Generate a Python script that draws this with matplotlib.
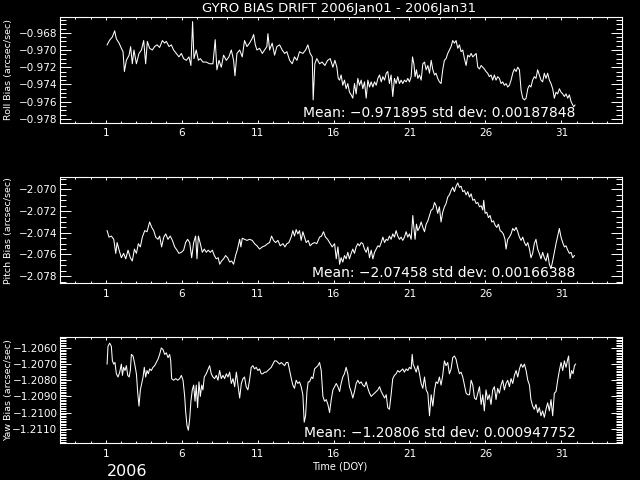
import matplotlib
matplotlib.use("Agg")
import matplotlib.pyplot as plt
from matplotlib.ticker import MultipleLocator, FuncFormatter

# ---------------- data (day of year, bias in arcsec/sec) ----------------
roll_day = [
    1.09, 1.26, 1.44, 1.59, 1.70, 1.88, 2.03, 2.14, 2.23, 2.36,
    2.54, 2.64, 2.75, 2.86, 3.02, 3.19, 3.35, 3.50, 3.63, 3.74,
    3.89, 4.07, 4.22, 4.38, 4.55, 4.73, 4.88, 4.99, 5.17, 5.32,
    5.47, 5.65, 5.82, 5.98, 6.13, 6.31, 6.48, 6.61, 6.72, 6.81,
    6.96, 7.10, 7.23, 7.40, 7.62, 7.84, 8.06, 8.21, 8.32, 8.46,
    8.61, 8.76, 8.94, 9.11, 9.27, 9.42, 9.51, 9.64, 9.82, 9.99,
    10.14, 10.30, 10.47, 10.63, 10.74, 10.85, 10.96, 11.13, 11.31, 11.46,
    11.61, 11.68, 11.79, 11.96, 12.12, 12.27, 12.45, 12.62, 12.78, 12.93,
    13.11, 13.28, 13.43, 13.59, 13.76, 13.98, 14.16, 14.31, 14.46, 14.60,
    14.66, 14.77, 14.90, 15.08, 15.25, 15.43, 15.61, 15.78, 15.96, 16.09,
    16.22, 16.31,
    16.40, 16.50, 16.61, 16.72, 16.83, 16.94, 17.05, 17.16, 17.27, 17.38,
    17.49, 17.60, 17.71, 17.82, 17.93, 18.04, 18.15, 18.26, 18.37, 18.48,
    18.59, 18.70, 18.81, 18.92, 19.03, 19.14, 19.25, 19.36, 19.47, 19.57,
    19.68, 19.79, 19.90, 20.01, 20.12, 20.23, 20.34, 20.45, 20.56, 20.67,
    20.78, 20.89, 21.00, 21.11, 21.20, 21.29, 21.37, 21.46, 21.55, 21.66,
    21.77, 21.88, 21.99, 22.10, 22.21, 22.32, 22.43, 22.54, 22.65, 22.75,
    22.86, 22.97, 23.08, 23.19, 23.30, 23.41, 23.52, 23.63, 23.74, 23.85,
    23.96, 24.07, 24.18, 24.29, 24.40, 24.51, 24.62, 24.73, 24.84, 24.95,
    25.06, 25.17, 25.28, 25.39, 25.50, 25.61, 25.72, 25.83, 25.93, 26.04,
    26.15, 26.26, 26.37, 26.48, 26.59, 26.70, 26.81, 26.92, 27.03, 27.14,
    27.25, 27.36, 27.47, 27.58, 27.69, 27.80, 27.91, 28.02, 28.13, 28.24,
    28.35, 28.46, 28.57, 28.68, 28.79, 28.90, 29.00, 29.11, 29.22, 29.33,
    29.44, 29.55, 29.66, 29.77, 29.88, 29.99, 30.10, 30.21, 30.32, 30.43,
    30.54, 30.65, 30.76, 30.87, 30.98, 31.09, 31.20, 31.31, 31.42, 31.53,
    31.64, 31.75, 31.81, 31.90,
]
roll_bias = [
    -0.9694, -0.96885, -0.96847, -0.96777, -0.9687, -0.9692, -0.9698, -0.9702, -0.9725, -0.9712,
    -0.9706, -0.9696, -0.9716, -0.9700, -0.9716, -0.9704, -0.9700, -0.9689, -0.9716, -0.9690,
    -0.9698, -0.9700, -0.9696, -0.9694, -0.9697, -0.9689, -0.9692, -0.9690, -0.9696, -0.9694,
    -0.9700, -0.9704, -0.9708, -0.9704, -0.9710, -0.9712, -0.9708, -0.9718, -0.9667, -0.9710,
    -0.9700, -0.9712, -0.9710, -0.9714, -0.9714, -0.9716, -0.9716, -0.9688, -0.9723, -0.9712,
    -0.9720, -0.9706, -0.9712, -0.9708, -0.9700, -0.9712, -0.9730, -0.9704, -0.9700, -0.9708,
    -0.9689, -0.9696, -0.9692, -0.9687, -0.9682, -0.9694, -0.9700, -0.9698, -0.9704, -0.9700,
    -0.9696, -0.9681, -0.9700, -0.9692, -0.9706, -0.9696, -0.9694, -0.9700, -0.9704, -0.9702,
    -0.9712, -0.9716, -0.9708, -0.9712, -0.9702, -0.9704, -0.9700, -0.9694, -0.9704, -0.9708,
    -0.9758, -0.9716, -0.9710, -0.9716, -0.9714, -0.9718, -0.9712, -0.9710, -0.9720, -0.9712,
    -0.9720, -0.9733,
    -0.9735, -0.9729, -0.9741, -0.9735, -0.9745, -0.9739, -0.9749, -0.9752, -0.9756, -0.9739,
    -0.9751, -0.9733, -0.9741, -0.9735, -0.9745, -0.9737, -0.9756, -0.9735, -0.9743, -0.9737,
    -0.9743, -0.9737, -0.9741, -0.9733, -0.9729, -0.9737, -0.9731, -0.9735, -0.9727, -0.9725,
    -0.9739, -0.9729, -0.9754, -0.9733, -0.9739, -0.9731, -0.9739, -0.9735, -0.9739, -0.9735,
    -0.9737, -0.9733, -0.9737, -0.9731, -0.9708, -0.9716, -0.9731, -0.9723, -0.9733, -0.9729,
    -0.9735, -0.9716, -0.9714, -0.9723, -0.9718, -0.9727, -0.9712, -0.9723, -0.9729, -0.9727,
    -0.9733, -0.9737, -0.9739, -0.9723, -0.9712, -0.9710, -0.9704, -0.9700, -0.9696, -0.9689,
    -0.9692, -0.9689, -0.9698, -0.9694, -0.9702, -0.9700, -0.9710, -0.9718, -0.9706, -0.9708,
    -0.9704, -0.9708, -0.9706, -0.9704, -0.9720, -0.9722, -0.9718, -0.9720, -0.9722, -0.9725,
    -0.9727, -0.9731, -0.9729, -0.9735, -0.9729, -0.9735, -0.9731, -0.9733, -0.9739, -0.9737,
    -0.9741, -0.9739, -0.9743, -0.9741, -0.9735, -0.9727, -0.9722, -0.9725, -0.9720, -0.9723,
    -0.9747, -0.9756, -0.9758, -0.9756, -0.9745, -0.9741, -0.9743, -0.9735, -0.9731, -0.9733,
    -0.9723, -0.9729, -0.9735, -0.9737, -0.9727, -0.9733, -0.9727, -0.9735, -0.9739, -0.9745,
    -0.9756, -0.9749, -0.9751, -0.9745, -0.9749, -0.9751, -0.9754, -0.9751, -0.9756, -0.9752,
    -0.9760, -0.9764, -0.9766, -0.9764,
]

pitch_day = [
    1.09, 1.22, 1.37, 1.53, 1.66, 1.75, 1.88, 2.03, 2.18, 2.32,
    2.47, 2.62, 2.75, 2.89, 3.02, 3.15, 3.28, 3.41, 3.57, 3.72,
    3.89, 4.03, 4.16, 4.29, 4.44, 4.55, 4.68, 4.82, 4.95, 5.10,
    5.25, 5.39, 5.54, 5.69, 5.82, 5.98, 6.13, 6.26, 6.39, 6.53,
    6.66, 6.79, 6.92, 7.01, 7.10, 7.23, 7.36, 7.49, 7.62, 7.75,
    7.89, 8.02, 8.15, 8.28, 8.41, 8.50, 8.63, 8.76, 8.89, 9.03,
    9.16, 9.29, 9.42, 9.55, 9.68, 9.82, 9.90, 9.99, 10.14, 10.30,
    10.47, 10.65, 10.80, 10.96, 11.13, 11.31, 11.48, 11.66, 11.79, 11.92,
    12.05, 12.18, 12.34, 12.49, 12.67, 12.80, 12.93, 13.06, 13.21, 13.32,
    13.43, 13.54, 13.65, 13.76, 13.87, 13.98, 14.09, 14.20, 14.33, 14.46,
    14.60, 14.75, 14.90, 15.08, 15.21, 15.34, 15.47, 15.61, 15.74, 15.91,
    16.07, 16.18, 16.29, 16.40, 16.50, 16.61, 16.72, 16.83, 16.94, 17.05,
    17.16, 17.27, 17.38, 17.49, 17.60, 17.71, 17.82, 17.93, 18.04, 18.15,
    18.26, 18.37, 18.48, 18.59, 18.70, 18.81, 18.92, 19.03, 19.14, 19.25,
    19.36, 19.47, 19.57, 19.68, 19.79, 19.90, 20.01, 20.12, 20.23, 20.34,
    20.45, 20.56, 20.67, 20.78, 20.89, 21.00, 21.11, 21.22, 21.29, 21.37,
    21.46, 21.55, 21.66, 21.77, 21.88, 21.99, 22.10, 22.21, 22.32, 22.43,
    22.54, 22.65, 22.75, 22.86, 22.97, 23.08, 23.19, 23.30, 23.41, 23.52,
    23.63, 23.74, 23.85, 23.96, 24.07, 24.18, 24.29, 24.40, 24.51, 24.62,
    24.73, 24.84, 24.95, 25.06, 25.17, 25.28, 25.39, 25.50, 25.61, 25.72,
    25.83, 25.89, 25.98, 26.09, 26.20, 26.31, 26.42, 26.53, 26.64, 26.75,
    26.86, 26.97, 27.07, 27.18, 27.29, 27.36, 27.47, 27.58, 27.69, 27.80,
    27.91, 28.02, 28.13, 28.24, 28.35, 28.46, 28.57, 28.68, 28.79, 28.90,
    29.00, 29.11, 29.22, 29.33, 29.44, 29.55, 29.66, 29.77, 29.88, 29.99,
    30.10, 30.21, 30.32, 30.43, 30.54, 30.65, 30.76, 30.87, 30.98, 31.09,
    31.20, 31.31, 31.42, 31.53, 31.64, 31.75, 31.86,
]
pitch_bias = [
    -2.0738, -2.0744, -2.0743, -2.0746, -2.0759, -2.0749, -2.0756, -2.0763, -2.0759, -2.0764,
    -2.0756, -2.0763, -2.0766, -2.0755, -2.0759, -2.0750, -2.0753, -2.0744, -2.0738, -2.0739,
    -2.0730, -2.0735, -2.0738, -2.0744, -2.0746, -2.0743, -2.0753, -2.0744, -2.0741, -2.0746,
    -2.0743, -2.0747, -2.0753, -2.0756, -2.0759, -2.0758, -2.0756, -2.0749, -2.0746, -2.0749,
    -2.0763, -2.0749, -2.0743, -2.0764, -2.0743, -2.0750, -2.0758, -2.0755, -2.0758, -2.0756,
    -2.0758, -2.0756, -2.0761, -2.0764, -2.0763, -2.0769, -2.0766, -2.0764, -2.0761, -2.0763,
    -2.0767, -2.0766, -2.0769, -2.0761, -2.0755, -2.0746, -2.0753, -2.0745, -2.0746, -2.0747,
    -2.0746, -2.0747, -2.0750, -2.0752, -2.0755, -2.0753, -2.0752, -2.0750, -2.0749, -2.0743,
    -2.0747, -2.0749, -2.0747, -2.0752, -2.0750, -2.0753, -2.0750, -2.0749, -2.0744, -2.0738,
    -2.0743, -2.0737, -2.0741, -2.0738, -2.0747, -2.0739, -2.0744, -2.0749, -2.0747, -2.0752,
    -2.0750, -2.0749, -2.0750, -2.0744, -2.0743, -2.0739, -2.0744, -2.0746, -2.0749, -2.0753,
    -2.0750, -2.0764, -2.0753, -2.0769, -2.0763, -2.0767, -2.0761, -2.0764, -2.0758, -2.0764,
    -2.0759, -2.0755, -2.0759, -2.0753, -2.0750, -2.0752, -2.0749, -2.0750, -2.0755, -2.0758,
    -2.0753, -2.0763, -2.0756, -2.0764, -2.0758, -2.0755, -2.0752, -2.0753, -2.0749, -2.0744,
    -2.0749, -2.0746, -2.0747, -2.0743, -2.0746, -2.0741, -2.0744, -2.0738, -2.0743, -2.0746,
    -2.0744, -2.0747, -2.0744, -2.0739, -2.0744, -2.0741, -2.0746, -2.0724, -2.0735, -2.0746,
    -2.0732, -2.0738, -2.0735, -2.0730, -2.0735, -2.0739, -2.0732, -2.0729, -2.0724, -2.0719,
    -2.0718, -2.0712, -2.0715, -2.0722, -2.0716, -2.0730, -2.0721, -2.0716, -2.0713, -2.0707,
    -2.0705, -2.0701, -2.0698, -2.0702, -2.0697, -2.0694, -2.0698, -2.0697, -2.0702, -2.0701,
    -2.0705, -2.0702, -2.0707, -2.0704, -2.0710, -2.0709, -2.0713, -2.0712, -2.0716, -2.0715,
    -2.0719, -2.0710, -2.0722, -2.0721, -2.0726, -2.0724, -2.0730, -2.0729, -2.0733, -2.0735,
    -2.0732, -2.0738, -2.0739, -2.0741, -2.0746, -2.0755, -2.0746, -2.0744, -2.0741, -2.0736,
    -2.0738, -2.0735, -2.0739, -2.0744, -2.0747, -2.0744, -2.0749, -2.0752, -2.0749, -2.0755,
    -2.0763, -2.0759, -2.0750, -2.0746, -2.0755, -2.0759, -2.0764, -2.0758, -2.0763, -2.0766,
    -2.0759, -2.0769, -2.0773, -2.0766, -2.0758, -2.0750, -2.0743, -2.0736, -2.0744, -2.0749,
    -2.0753, -2.0752, -2.0756, -2.0759, -2.0758, -2.0763, -2.0761,
]

yaw_day = [
    1.09, 1.15, 1.26, 1.37, 1.44, 1.53, 1.61, 1.70, 1.81, 1.92,
    2.03, 2.10, 2.18, 2.27, 2.36, 2.45, 2.54, 2.62, 2.69, 2.80,
    2.91, 3.02, 3.11, 3.19, 3.28, 3.37, 3.46, 3.54, 3.63, 3.72,
    3.81, 3.89, 4.00, 4.11, 4.22, 4.33, 4.44, 4.55, 4.66, 4.77,
    4.88, 4.99, 5.10, 5.21, 5.28, 5.34, 5.47, 5.61, 5.74, 5.87,
    5.98, 6.09, 6.20, 6.26, 6.35, 6.44, 6.53, 6.61, 6.70, 6.79,
    6.88, 6.96, 7.05, 7.14, 7.23, 7.32, 7.40, 7.49, 7.62, 7.75,
    7.84, 7.95, 8.06, 8.17, 8.28, 8.39, 8.50, 8.61, 8.72, 8.83,
    8.94, 9.05, 9.16, 9.27, 9.38, 9.49, 9.60, 9.71, 9.82, 9.93,
    10.04, 10.14, 10.25, 10.36, 10.47, 10.58, 10.69, 10.80, 10.91, 11.02,
    11.13, 11.24, 11.35, 11.46, 11.57, 11.68, 11.79, 11.90, 12.01, 12.12,
    12.23, 12.34, 12.45, 12.56, 12.67, 12.78, 12.89, 13.00, 13.11, 13.22,
    13.32, 13.43, 13.54, 13.65, 13.76, 13.87, 13.98, 14.07, 14.16, 14.25,
    14.33, 14.42, 14.55, 14.64, 14.75, 14.86, 14.97, 15.08, 15.19, 15.30,
    15.41, 15.52, 15.63, 15.74, 15.85, 15.96, 16.07, 16.18, 16.29,
    16.40, 16.50, 16.61, 16.72, 16.83, 16.94, 17.05, 17.16, 17.27, 17.38,
    17.49, 17.60, 17.71, 17.82, 17.93, 18.04, 18.15, 18.26, 18.37, 18.48,
    18.59, 18.70, 18.81, 18.92, 19.03, 19.14, 19.25, 19.36, 19.47, 19.57,
    19.68, 19.79, 19.90, 20.01, 20.12, 20.23, 20.34, 20.45, 20.56, 20.67,
    20.78, 20.89, 21.00, 21.11, 21.18, 21.24, 21.33, 21.44, 21.55, 21.66,
    21.77, 21.88, 21.99, 22.10, 22.21, 22.32, 22.43, 22.54, 22.65, 22.75,
    22.86, 22.97, 23.08, 23.19, 23.30, 23.41, 23.52, 23.63, 23.74, 23.85,
    23.96, 24.07, 24.18, 24.29, 24.40, 24.51, 24.62, 24.73, 24.84, 24.95,
    25.06, 25.17, 25.28, 25.39, 25.50, 25.61, 25.72, 25.83, 25.93, 26.04,
    26.15, 26.26, 26.37, 26.48, 26.59, 26.70, 26.81, 26.92, 27.03, 27.14,
    27.25, 27.36, 27.47, 27.58, 27.69, 27.80, 27.91, 28.02, 28.13, 28.24,
    28.35, 28.46, 28.57, 28.68, 28.79, 28.90, 29.00, 29.11, 29.22, 29.33,
    29.44, 29.55, 29.66, 29.77, 29.88, 29.99, 30.10, 30.21, 30.32, 30.43,
    30.54, 30.65, 30.76, 30.87, 30.98, 31.09, 31.20, 31.31, 31.42, 31.48,
    31.57, 31.68, 31.77, 31.86, 31.94,
]
yaw_bias = [
    -1.2070, -1.2059, -1.2057, -1.2059, -1.2068, -1.2070, -1.2069, -1.2076, -1.2078, -1.2075,
    -1.2070, -1.2077, -1.2072, -1.2074, -1.2071, -1.2077, -1.2078, -1.2074, -1.2064, -1.2065,
    -1.2070, -1.2076, -1.2088, -1.2096, -1.2086, -1.2082, -1.2078, -1.2072, -1.2078, -1.2074,
    -1.2076, -1.2073, -1.2074, -1.2072, -1.2071, -1.2069, -1.2067, -1.2064, -1.2060, -1.2061,
    -1.2064, -1.2063, -1.2066, -1.2064, -1.2068, -1.2079, -1.2080, -1.2079, -1.2080, -1.2079,
    -1.2077, -1.2080, -1.2090, -1.2099, -1.2108, -1.2111, -1.2104, -1.2093, -1.2086, -1.2083,
    -1.2093, -1.2083, -1.2097, -1.2081, -1.2090, -1.2083, -1.2086, -1.2078, -1.2076, -1.2073,
    -1.2071, -1.2076, -1.2078, -1.2079, -1.2077, -1.2080, -1.2074, -1.2079, -1.2077, -1.2079,
    -1.2076, -1.2078, -1.2075, -1.2082, -1.2079, -1.2084, -1.2075, -1.2083, -1.2091, -1.2082,
    -1.2079, -1.2078, -1.2084, -1.2086, -1.2080, -1.2072, -1.2071, -1.2073, -1.2072, -1.2074,
    -1.2073, -1.2076, -1.2076, -1.2075, -1.2075, -1.2074, -1.2073, -1.2072, -1.2070, -1.2068,
    -1.2068, -1.2069, -1.2070, -1.2069, -1.2070, -1.2071, -1.2069, -1.2069, -1.2074, -1.2079,
    -1.2083, -1.2085, -1.2080, -1.2082, -1.2081, -1.2084, -1.2089, -1.2106, -1.2102, -1.2087,
    -1.2081, -1.2081, -1.2078, -1.2079, -1.2073, -1.2072, -1.2071, -1.2069, -1.2074, -1.2090,
    -1.2093, -1.2092, -1.2095, -1.2100, -1.2092, -1.2086, -1.2084, -1.2082, -1.2084,
    -1.2087, -1.2082, -1.2078, -1.2076, -1.2072, -1.2076, -1.2084, -1.2087, -1.2091, -1.2087,
    -1.2082, -1.2080, -1.2082, -1.2081, -1.2083, -1.2084, -1.2081, -1.2085, -1.2088, -1.2090,
    -1.2089, -1.2088, -1.2087, -1.2086, -1.2084, -1.2087, -1.2089, -1.2091, -1.2089, -1.2097,
    -1.2098, -1.2089, -1.2079, -1.2077, -1.2076, -1.2074, -1.2075, -1.2074, -1.2073, -1.2075,
    -1.2073, -1.2074, -1.2072, -1.2073, -1.2064, -1.2070, -1.2072, -1.2075, -1.2071, -1.2076,
    -1.2082, -1.2085, -1.2078, -1.2086, -1.2088, -1.2102, -1.2089, -1.2096, -1.2086, -1.2081,
    -1.2082, -1.2078, -1.2083, -1.2077, -1.2068, -1.2071, -1.2069, -1.2076, -1.2073, -1.2066,
    -1.2065, -1.2067, -1.2072, -1.2076, -1.2075, -1.2078, -1.2083, -1.2088, -1.2089, -1.2089,
    -1.2080, -1.2083, -1.2091, -1.2092, -1.2088, -1.2084, -1.2095, -1.2089, -1.2099, -1.2086,
    -1.2092, -1.2089, -1.2095, -1.2086, -1.2084, -1.2092, -1.2085, -1.2088, -1.2083, -1.2080,
    -1.2086, -1.2082, -1.2080, -1.2084, -1.2079, -1.2082, -1.2077, -1.2074, -1.2078, -1.2073,
    -1.2070, -1.2072, -1.2070, -1.2074, -1.2080, -1.2083, -1.2092, -1.2096, -1.2098, -1.2095,
    -1.2100, -1.2097, -1.2102, -1.2099, -1.2103, -1.2098, -1.2094, -1.2099, -1.2092, -1.2102,
    -1.2088, -1.2087, -1.2080, -1.2074, -1.2069, -1.2074, -1.2068, -1.2072, -1.2067, -1.2065,
    -1.2079, -1.2074, -1.2076, -1.2071, -1.2070,
]

labels = ["Roll Bias (arcsec/sec)", "Pitch Bias (arcsec/sec)", "Yaw Bias (arcsec/sec)"]
stats = ["Mean: \u22120.971895 std dev: 0.00187848",
         "Mean: \u22122.07458 std dev: 0.00166388",
         "Mean: \u22121.20806 std dev: 0.000947752"]
ylims = [(-0.97847, -0.96614), (-2.07865, -2.06886), (-1.21189, -1.20532)]
ysteps = [(0.002, 0.0005, 3), (0.002, 0.0005, 3), (0.001, 0.0001, 4)]
xticks = [1, 6, 11, 16, 21, 26, 31]

plt.rcParams["font.family"] = "DejaVu Sans"
fig = plt.figure(figsize=(6.4, 4.8), dpi=100, facecolor="black")

# axes boxes in figure fraction (left, bottom, width, height)
boxes = [(0.094, 0.744, 0.878, 0.221),
         (0.094, 0.410, 0.878, 0.221),
         (0.094, 0.077, 0.878, 0.221)]
series = [(roll_day, roll_bias), (pitch_day, pitch_bias), (yaw_day, yaw_bias)]


def make_fmt(nd):
    fmt = "%." + str(nd) + "f"
    return FuncFormatter(lambda v, p: (fmt % v).replace("-", "\u2212"))


for i in range(3):
    ax = fig.add_axes(boxes[i])
    ax.set_facecolor("black")
    x, y = series[i]
    ax.plot(x, y, color="white", lw=0.75)
    ax.set_xlim(-2, 35)
    ax.set_ylim(*ylims[i])

    major, minor, nd = ysteps[i]
    ax.yaxis.set_major_locator(MultipleLocator(major))
    ax.yaxis.set_minor_locator(MultipleLocator(minor))
    ax.yaxis.set_major_formatter(make_fmt(nd))
    ax.set_xticks(xticks)
    ax.xaxis.set_minor_locator(MultipleLocator(1))

    for s in ax.spines.values():
        s.set_color("white")
        s.set_linewidth(0.8)
    ax.tick_params(axis="both", which="both", direction="in", colors="white",
                   top=True, right=True, width=0.7)
    ax.tick_params(axis="y", which="major", length=8, pad=2, labelsize=7.5)
    ax.tick_params(axis="y", which="minor", length=4)
    ax.tick_params(axis="x", which="major", length=2.2, pad=4, labelsize=7.5)
    ax.tick_params(axis="x", which="minor", length=1.3)

    ax.text(0.917, 0.095, stats[i], transform=ax.transAxes, color="white",
            fontsize=10, ha="right", va="center")

    b = boxes[i]
    fig.text(0.013, b[1] + b[3] / 2, labels[i], color="white", fontsize=6.8,
             rotation=90, ha="center", va="center")

fig.text(0.53, 0.983, "GYRO BIAS DRIFT 2006Jan01 - 2006Jan31", color="white",
         fontsize=9.5, ha="center", va="center")
fig.text(0.53, 0.029, "Time (DOY)", color="white", fontsize=7,
         ha="center", va="center")
fig.text(0.167, 0.017, "2006", color="white", fontsize=11.5,
         ha="left", va="center")

fig.savefig("out.png", dpi=100, facecolor="black")
